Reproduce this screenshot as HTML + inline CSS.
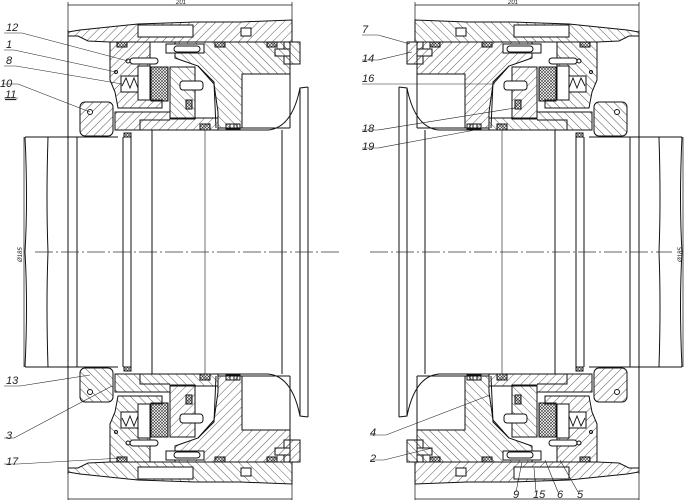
<!DOCTYPE html>
<html><head><meta charset="utf-8"><style>
html,body{margin:0;padding:0;background:#fff;}
svg{display:block;}
text{font-family:"Liberation Sans",sans-serif;font-style:italic;font-size:11px;fill:#222;}
</style></head><body>
<svg width="684" height="500" viewBox="0 0 684 500" xmlns="http://www.w3.org/2000/svg">
<defs>
<pattern id="h" patternUnits="userSpaceOnUse" width="6" height="6" patternTransform="rotate(45)">
<line x1="0" y1="0" x2="0" y2="6" stroke="#333" stroke-width="0.8"/></pattern>
<pattern id="h2" patternUnits="userSpaceOnUse" width="6" height="6" patternTransform="rotate(-45)">
<line x1="0" y1="0" x2="0" y2="6" stroke="#333" stroke-width="0.8"/></pattern>
<pattern id="x" patternUnits="userSpaceOnUse" width="3" height="3">
<path d="M0 0L3 3M3 0L0 3" stroke="#333" stroke-width="0.6"/></pattern>
<g id="q" fill="none" stroke="#111" stroke-width="1">
  <path d="M68 32 L80 30 L138 24 L195 22 L240 22 L292 20 L292 42 L110 42 L88 41 L78 36 L68 36 Z" fill="url(#h)"/>
  <rect x="138" y="25" width="55" height="12" fill="#fff"/>
  <rect x="241" y="28" width="10" height="8" fill="#fff"/>
  <rect x="284" y="42" width="16" height="22" fill="url(#h2)"/>
  <rect x="275" y="49" width="15" height="7" fill="#fff"/>
  <path d="M110 42 L150 42 L150 100 L162 100 L162 108 L118 108 L115 92 L110 80 Z" fill="url(#h)"/>
  <rect x="121" y="76" width="24" height="16" fill="#fff"/>
  <path d="M122 86 L126 78 L130 88 L134 78 L138 88 L142 78 L145 86" stroke-width="0.9"/>
  <rect x="138" y="66" width="12" height="34" fill="#fff"/>
  <rect x="130" y="58" width="28" height="6" rx="3" fill="#fff"/>
  <circle cx="128" cy="61" r="2"/><circle cx="116" cy="72" r="1.5"/>
  <rect x="151" y="67" width="17" height="34" fill="url(#x)"/>
  <rect x="170" y="67" width="25" height="52" fill="url(#h2)"/>
  <rect x="180" y="81" width="23" height="9" rx="3" fill="#fff"/>
  <rect x="186" y="100" width="6" height="9" fill="url(#x)"/>
  <path d="M175 42 L290 42 L290 74 L242 74 L242 128 L218 128 L218 112 L214 84 L198 66 L175 58 Z" fill="url(#h2)"/>
  <rect x="166" y="44" width="38" height="9" fill="#fff"/>
  <rect x="174" y="46" width="26" height="6" rx="3"/>
  <path d="M198 66 L214 82 L216 128" />
  <path d="M115 112 L170 112 L170 118 L218 118 L218 130 L115 130 Z" fill="url(#h)"/>
  <path d="M140 130 L140 120 L170 120"/>
  <rect x="80" y="102" width="33" height="34" rx="5" fill="url(#h)"/>
  <circle cx="90" cy="112" r="2.5" fill="#fff"/>
  <rect x="117" y="42" width="10" height="5" fill="url(#x)"/>
  <rect x="215" y="42" width="10" height="5" fill="url(#x)"/>
  <rect x="267" y="42" width="10" height="5" fill="url(#x)"/>
  <rect x="200" y="124" width="10" height="6" fill="url(#x)"/>
  <rect x="124" y="133" width="7" height="4" fill="url(#x)"/>
  <path d="M226 124 h14 v5 h-14 z M230 124 v5 M234 124 v5 M237 124 v5"/>
  <path d="M25 137 L118 137"/>
  <path d="M118 130 L268 130 Q292 128 300 88 L308 87"/>
  <path d="M68 30 L68 252 M77 137 L77 252 M48 137 Q46 200 48 252 M25 137 Q28 200 25 252"/>
  <path d="M123 137 L123 252 M131 137 L131 252 M152 130 L152 252 M282 130 L282 252 M300 88 L300 252 M308 87 L308 252"/>
  <path d="M205 130 L205 252" stroke-width="0.6"/>
  <path d="M242 128 L290 128 M290 74 L290 128"/>
  <path d="M68 5 L292 5 M68 2 L68 30 M292 2 L292 22" stroke-width="0.7"/>
  <path d="M24 137 L24 252" stroke-width="0.7"/>
</g>
</defs>
<use href="#q"/>
<use href="#q" transform="translate(0,504) scale(1,-1)"/>
<use href="#q" transform="translate(707,0) scale(-1,1)"/>
<use href="#q" transform="translate(707,504) scale(-1,-1)"/>
<path d="M35 252 H340 M370 252 H672" stroke="#333" stroke-width="0.7" stroke-dasharray="18 3 2 3"/>
<text x="176" y="4" style="font-size:6px">201</text>
<text x="508" y="4" style="font-size:6px">201</text>
<text x="0" y="0" style="font-size:6px" transform="translate(22,262) rotate(-90)">Ø185</text>
<text x="0" y="0" style="font-size:6px" transform="translate(682,262) rotate(-90)">Ø185</text>
<g stroke="#222" stroke-width="0.6" fill="none">
<path d="M4 33 H22 L128 61 M4 50 H14 L116 72 M4 66 H16 L122 84 M2 84 H18 L90 112 M4 98 H18"/>
<path d="M4 386 H20 L90 375 M4 438 H14 L112 386 M4 464 H18 L122 458"/>
<path d="M362 35 H378 L410 44 M362 60 H378 L412 52 M362 84 H378 L495 84 M362 130 H378 L515 108 M362 148 H378 L475 130"/>
<path d="M370 435 H386 L490 395 M370 460 H384 L432 448"/>
<path d="M516 492 L522 462 M536 492 L534 468 M558 492 L545 460 M578 492 L560 460"/>
</g>
<text x="6" y="31">12</text><text x="6" y="48">1</text><text x="6" y="64">8</text>
<text x="0" y="87">10</text><text x="5" y="98" text-decoration="underline">11</text>
<text x="6" y="384">13</text><text x="6" y="439">3</text><text x="6" y="465">17</text>
<text x="362" y="33">7</text><text x="362" y="62">14</text><text x="362" y="82">16</text>
<text x="362" y="132">18</text><text x="362" y="150">19</text>
<text x="370" y="436">4</text><text x="370" y="462">2</text>
<text x="513" y="498">9</text><text x="533" y="498">15</text><text x="557" y="498">6</text><text x="577" y="498">5</text>
</svg>
</body></html>
